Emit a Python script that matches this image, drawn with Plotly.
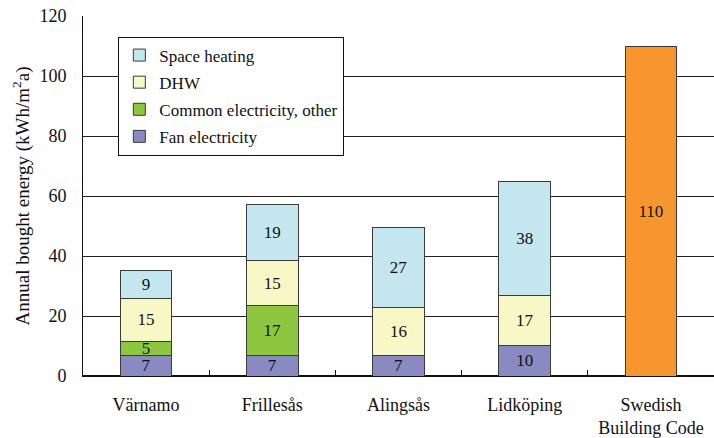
import plotly.graph_objects as go

sites = ["Värnamo", "Frillesås", "Alingsås", "Lidköping", "Swedish<br>Building Code"]

fan = [6.8, 6.8, 6.8, 10.1, None]
common = [4.6, 16.6, None, None, None]
dhw = [14.6, 15.0, 16.0, 16.9, None]
space = [9.1, 18.8, 26.6, 37.8, None]
code = [None, None, None, None, 110]

serif = "Liberation Serif, Times New Roman, serif"
edge = dict(color="#3a3a3a", width=1)

# stacking order bottom -> top, legend shows top -> bottom
series = [
    ("Fan electricity", fan, "#8A8AC2", 4),
    ("Common electricity, other", common, "#8DC63F", 3),
    ("DHW", dhw, "#F8F8C6", 2),
    ("Space heating", space, "#C4E6EF", 1),
]

fig = go.Figure()
for name, vals, col, rank in series:
    fig.add_trace(go.Bar(
        name=name, x=sites, y=vals,
        marker=dict(color=col, line=edge),
        width=0.41,
        legendrank=rank,
        legendgroup=name,
        texttemplate="%{y:.0f}",
        textposition="inside",
        insidetextanchor="middle",
        textangle=0,
        textfont=dict(family=serif, size=17, color="#111"),
    ))

fig.add_trace(go.Bar(
    name="Swedish Building Code", x=sites, y=code,
    marker=dict(color="#F7962E", line=edge),
    width=0.41,
    showlegend=False,
    texttemplate="%{y:.0f}",
    textposition="inside",
    insidetextanchor="middle",
    textangle=0,
    textfont=dict(family=serif, size=17, color="#111"),
))

fig.update_layout(
    width=714, height=438,
    barmode="stack",
    margin=dict(l=83, r=0, t=16, b=62),
    paper_bgcolor="white",
    plot_bgcolor="white",
    font=dict(family=serif, size=18, color="#111"),
    uniformtext=dict(minsize=17, mode="show"),
    legend=dict(
        x=0.056, y=0.943, xanchor="left", yanchor="top",
        traceorder="grouped",
        tracegroupgap=2,
        bordercolor="#111", borderwidth=1,
        bgcolor="white",
        font=dict(family=serif, size=17, color="#111"),
    ),
    xaxis=dict(
        tickson="boundaries",
        ticks="inside", ticklen=6, tickcolor="#111",
        showline=True, linecolor="#111", linewidth=1,
        showgrid=False,
        ticklabelstandoff=12,
        tickfont=dict(family=serif, size=18),
    ),
    yaxis=dict(
        range=[0, 120], dtick=20,
        showline=True, linecolor="#111", linewidth=1,
        showgrid=True, gridcolor="#222", gridwidth=1,
        zeroline=True, zerolinecolor="#111",
        ticks="", ticklabelstandoff=12,
        tickfont=dict(family=serif, size=18),
        title=dict(text="Annual bought energy (kWh/m<sup>2</sup>a)",
                   font=dict(family=serif, size=19), standoff=4),
    ),
)

fig.write_html("out.html", config={"displayModeBar": False},
               post_script="document.body.style.margin='0';")
